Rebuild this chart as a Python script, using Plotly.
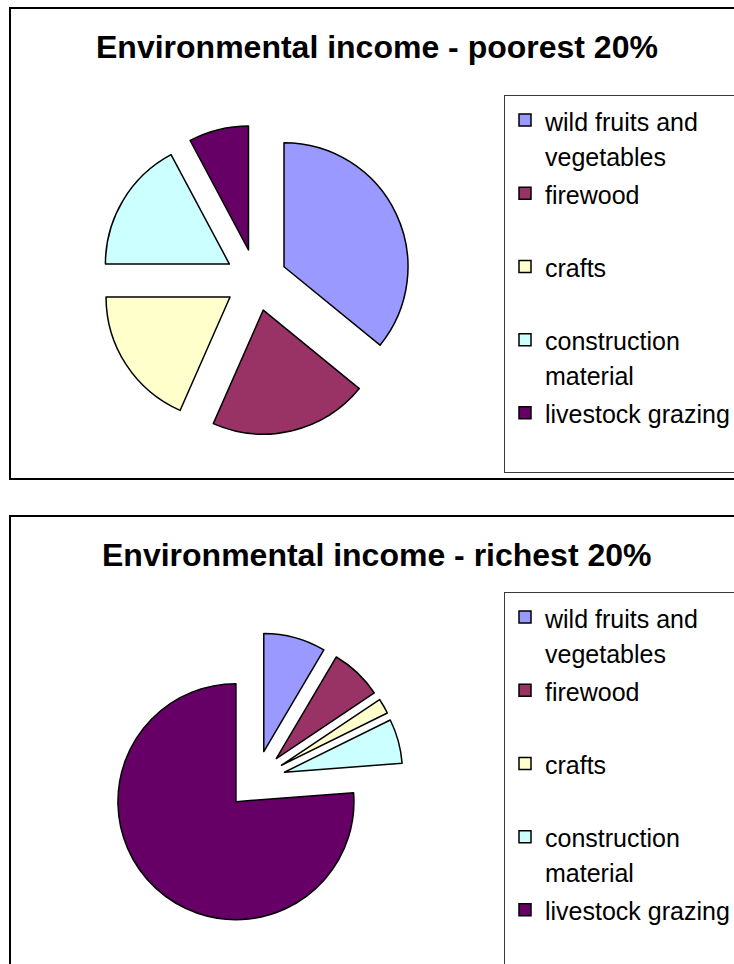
import plotly.graph_objects as go

W, H = 734, 964

# Income sources (legend text is wrapped onto two lines so every entry has equal height)
categories = ["wild fruits and vegetables", "firewood", "crafts",
              "construction material", "livestock grazing"]
legend_labels = ["wild fruits and<br>vegetables", "firewood<br>\u00a0", "crafts<br>\u00a0",
                 "construction<br>material", "livestock grazing<br>\u00a0"]

# Share of environmental income (%)
poorest_share = [35.9, 20.7, 18.4, 17.2, 7.8]
richest_share = [8.5, 7.1, 2.1, 6.1, 76.2]

slice_colors = ["#9999FF", "#993366", "#FFFFCC", "#CCFFFF", "#660066"]

FONT = "Liberation Sans, Arial, sans-serif"
PULL = 0.25
LEGEND_TEXT_SIZE = 25


def fx(px):
    return px / W


def fy(px):
    return 1 - px / H


def square_domain(cx, cy, half):
    return dict(x=[fx(cx - half), fx(cx + half)], y=[fy(cy + half), fy(cy - half)])


def styled(label, style_tail=""):
    # every line gets the legend text size; style_tail keeps the two pies' label strings distinct
    lines = label.split("<br>")
    return "<br>".join(
        f"<span style='font-size:{LEGEND_TEXT_SIZE}px{style_tail}'>{ln}</span>" for ln in lines
    )


def pie(values, domain, legend, style_tail):
    return go.Pie(
        labels=[styled(lb, style_tail) for lb in legend_labels],
        values=values,
        customdata=categories,
        sort=False,
        direction="clockwise",
        rotation=0,
        pull=[PULL] * len(values),
        textinfo="none",
        hovertemplate="%{customdata}: %{percent}<extra></extra>",
        marker=dict(colors=slice_colors, line=dict(color="black", width=1.5)),
        domain=domain,
        legend=legend,
    )


fig = go.Figure()
fig.add_trace(pie(poorest_share, square_domain(256, 280, 155), "legend", ""))
fig.add_trace(pie(richest_share, square_domain(256, 780, 147.5), "legend2", ";"))

legend_style = dict(
    x=fx(504), xanchor="left", yanchor="top",
    font=dict(family=FONT, size=27, color="black"),
    bordercolor="#3a3a3a", borderwidth=1, bgcolor="rgba(0,0,0,0)",
    valign="top", traceorder="normal",
)

title_font = dict(family=FONT, size=32, color="black")

fig.update_layout(
    width=W, height=H,
    margin=dict(l=0, r=0, t=0, b=0, pad=0, autoexpand=False),
    paper_bgcolor="white", plot_bgcolor="white",
    showlegend=True,
    legend=dict(y=fy(95), **legend_style),
    legend2=dict(y=fy(592), **legend_style),
    annotations=[
        dict(text="<b>Environmental income - poorest 20%</b>", x=fx(376.5), y=fy(46.5),
             xref="paper", yref="paper", xanchor="center", yanchor="middle",
             showarrow=False, font=title_font),
        dict(text="<b>Environmental income - richest 20%</b>", x=fx(376.5), y=fy(555),
             xref="paper", yref="paper", xanchor="center", yanchor="middle",
             showarrow=False, font=title_font),
    ],
    shapes=[
        dict(type="rect", xref="paper", yref="paper",
             x0=fx(10), x1=1.05, y0=fy(479), y1=fy(8),
             line=dict(color="black", width=2), fillcolor="rgba(0,0,0,0)"),
        dict(type="rect", xref="paper", yref="paper",
             x0=fx(10), x1=1.05, y0=-0.05, y1=fy(516),
             line=dict(color="black", width=2), fillcolor="rgba(0,0,0,0)"),
    ],
)

fig.write_html("out.html")
